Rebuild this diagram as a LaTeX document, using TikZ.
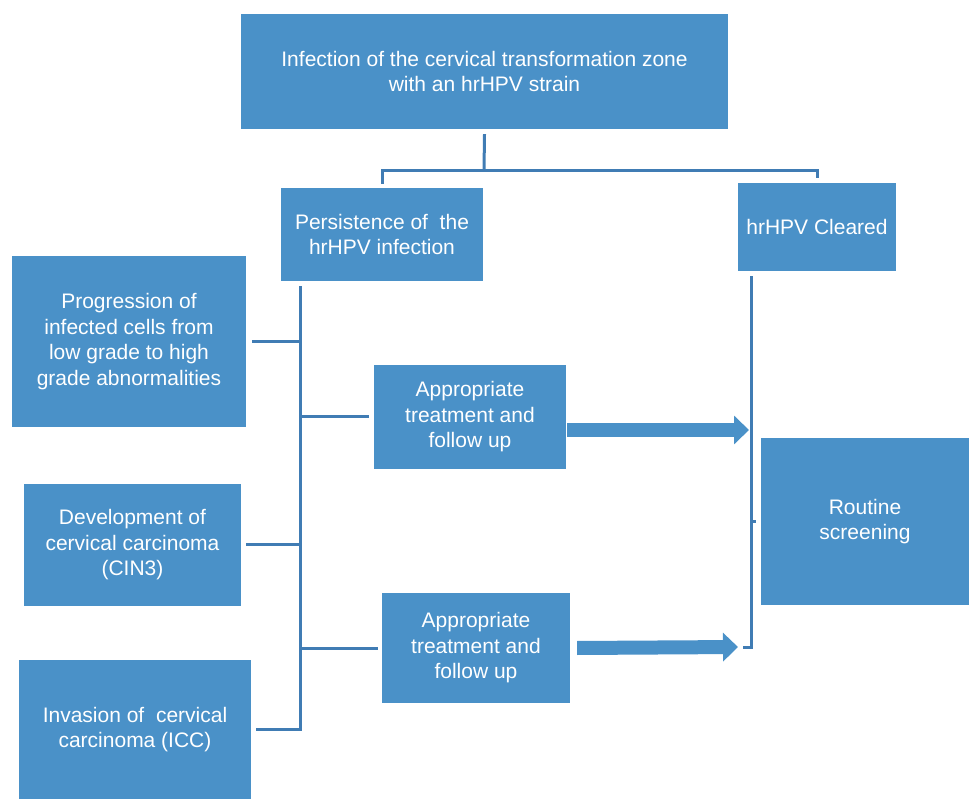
\documentclass[tikz,border=0pt]{standalone}
\usepackage{fontspec}
\setmainfont{Liberation Sans}
\usetikzlibrary{arrows.meta}
\definecolor{boxblue}{RGB}{74,145,200}
\definecolor{lineblue}{RGB}{64,124,180}
\tikzset{
  box/.style={fill=boxblue, draw=none, text=white, inner sep=0pt, align=center,
    font=\fontsize{21}{25.5}\selectfont},
  conn/.style={draw=lineblue, line width=3pt},
  fatarrow/.style={draw=boxblue, line width=14pt, -{Triangle[length=15pt,width=28pt]}}
}
\begin{document}
\begin{tikzpicture}[x=1pt,y=-1pt]
\useasboundingbox (0,0) rectangle (970,799);
\node[box, minimum width=487pt, minimum height=115pt] (top) at (484.5,71.5)
  {Infection of the cervical transformation zone\\with an hrHPV strain};
\node[box, minimum width=202pt, minimum height=93pt] (pers) at (382,234.5)
  {Persistence of\ \ the\\hrHPV infection};
\node[box, minimum width=158pt, minimum height=88pt] (clear) at (817,227)
  {hrHPV Cleared};
\node[box, minimum width=234pt, minimum height=171pt] (prog) at (129,341.5)
  {Progression of\\infected cells from\\low grade to high\\grade abnormalities};
\node[box, minimum width=192pt, minimum height=104pt] (app1) at (470,417)
  {Appropriate\\treatment and\\follow up};
\node[box, minimum width=208pt, minimum height=167pt] (routine) at (865,521.5)
  {Routine\\screening};
\node[box, minimum width=217pt, minimum height=122pt] (dev) at (132.5,545)
  {Development of\\cervical carcinoma\\(CIN3)};
\node[box, minimum width=188pt, minimum height=110pt] (app2) at (476,648)
  {Appropriate\\treatment and\\follow up};
\node[box, minimum width=232pt, minimum height=139pt] (inv) at (135,729.5)
  {Invasion of\ \ cervical\\carcinoma (ICC)};
% top connectors
\coordinate (j1) at (484,171);
\draw[conn] ([yshift=-5pt]top.south) -- (j1);
\draw[conn] (j1) -| ([yshift=4pt]pers.north);
\draw[conn] (j1) -| ([yshift=5pt]clear.north);
% left trunk
\coordinate (ttop) at (300,286);
\draw[conn] ([xshift=5pt]inv.east) -| (ttop);
\draw[conn] ([xshift=6pt]prog.east) -- (prog.east -| ttop);
\draw[conn] ([xshift=-5pt]app1.west) -- (app1.west -| ttop);
\draw[conn] ([xshift=5pt]dev.east) -- (dev.east -| ttop);
\draw[conn] ([xshift=-4pt]app2.west) -- (app2.west -| ttop);
% right line
\coordinate (rtop) at ([shift={(14pt,-5pt)}]clear.south west);
\coordinate (rbot) at (743,647);
\draw[conn] (rtop) |- (rbot);
\draw[conn] (routine.west -| rtop) -- ([xshift=-5pt]routine.west);
% arrows
\draw[fatarrow] ([shift={(1pt,-13pt)}]app1.east) -- (749,430);
\draw[fatarrow] ([xshift=7pt]app2.east) -- (738,647);
\end{tikzpicture}
\end{document}
